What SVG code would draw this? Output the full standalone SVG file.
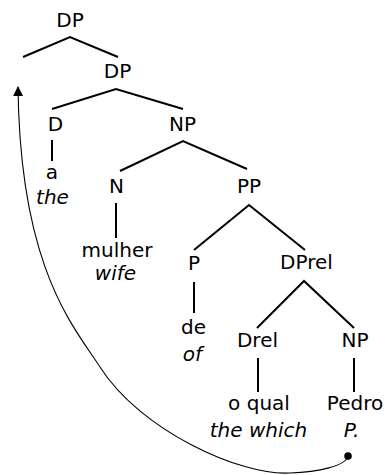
<svg xmlns="http://www.w3.org/2000/svg" width="386" height="475" viewBox="0 0 386 475">
<style>
text{font-family:"DejaVu Sans","Liberation Sans",sans-serif;font-size:20px;fill:#000;text-anchor:middle}
.it{font-style:italic}
.edge{stroke:#000;stroke-width:2;fill:none;stroke-linecap:butt}
.mv{stroke:#000;stroke-width:1.1;fill:none}
</style>
<defs>
<marker id="ah" viewBox="0 0 10 10" refX="9" refY="5" markerWidth="10" markerHeight="12" markerUnits="userSpaceOnUse" orient="auto">
<path d="M0,0 L10,5 L0,10 Z" fill="#000"/>
</marker>
</defs>
<rect width="386" height="475" fill="#fff"/>
<g id="connectors">
<polyline class="edge" points="23,57 70,37 118,57"/>
<polyline class="edge" points="52,109 116,89 183,109"/>
<line class="edge" x1="52" y1="140" x2="52" y2="161"/>
<polyline class="edge" points="120,171 183,141 247,169"/>
<line class="edge" x1="116" y1="203" x2="116" y2="238"/>
<polyline class="edge" points="194,250 249,205 305,250"/>
<line class="edge" x1="194" y1="282" x2="194" y2="313"/>
<polyline class="edge" points="257,328 304,281 354,328"/>
<line class="edge" x1="258" y1="358" x2="258" y2="392"/>
<line class="edge" x1="354" y1="358" x2="354" y2="392"/>
<path id="movement" class="mv" marker-end="url(#ah)" d="M348,456 C346,466 318,472 290,473 C240,476 140,430 100,367 C75,328 20,270 18,87"/>
<circle cx="348" cy="456" r="3.8" fill="#000"/>
</g>
<g id="dp-top"><text x="70" y="27">DP</text></g>
<g id="dp"><text x="117.5" y="78">DP</text></g>
<g id="d"><text x="55.5" y="131">D</text></g>
<g id="a"><text x="52" y="179">a</text><text class="it" x="52.5" y="204">the</text></g>
<g id="np1"><text x="182.5" y="131">NP</text></g>
<g id="n"><text x="116.5" y="193">N</text></g>
<g id="mulher"><text x="117" y="257">mulher</text><text class="it" x="115.5" y="280">wife</text></g>
<g id="pp"><text x="249" y="193">PP</text></g>
<g id="p"><text x="194" y="270">P</text></g>
<g id="de"><text x="193.5" y="334">de</text><text class="it" x="192.5" y="361">of</text></g>
<g id="dprel"><text x="306.5" y="269">DPrel</text></g>
<g id="drel"><text x="257.5" y="347">Drel</text></g>
<g id="np2"><text x="355" y="347">NP</text></g>
<g id="oqual"><text x="259" y="410">o qual</text><text class="it" x="258.5" y="437">the which</text></g>
<g id="pedro"><text x="355" y="410">Pedro</text><text class="it" x="351.5" y="437">P.</text></g>
</svg>
